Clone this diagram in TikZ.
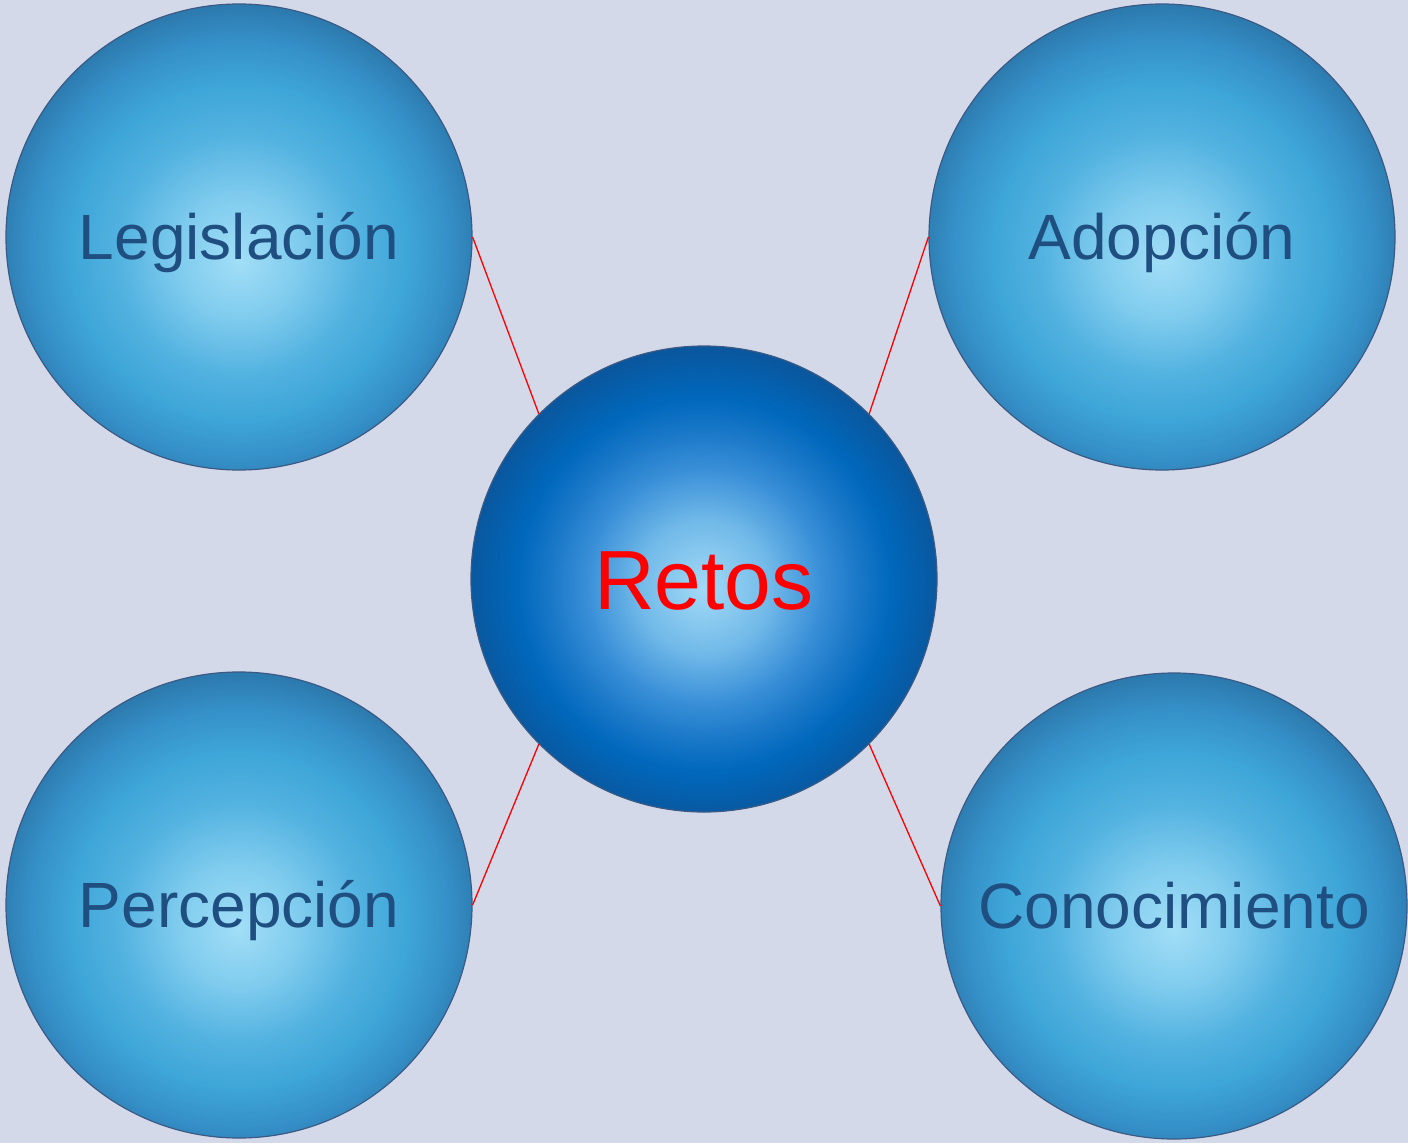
\documentclass[tikz,border=0pt]{standalone}
\usepackage{fontspec}
\setmainfont{Liberation Sans}
\definecolor{bgcol}{HTML}{D3D9E8}
\definecolor{txtblue}{HTML}{1F4E80}
\definecolor{rimcol}{HTML}{3B5A85}
\definecolor{ballA}{HTML}{A2DEF7}
\definecolor{ballB}{HTML}{80CCEE}
\definecolor{ballC}{HTML}{52B2E0}
\definecolor{ballD}{HTML}{3EA6D8}
\definecolor{ballE}{HTML}{3590C8}
\definecolor{ballF}{HTML}{2C7AAE}
\definecolor{coreA}{HTML}{A2DAF6}
\definecolor{coreB}{HTML}{72BAE9}
\definecolor{coreC}{HTML}{3A90D8}
\definecolor{coreD}{HTML}{1A78C8}
\definecolor{coreE}{HTML}{0068BC}
\definecolor{coreF}{HTML}{0A569C}
\pgfdeclareradialshading{ballshade}{\pgfpoint{0bp}{-2.5bp}}{%
  color(0bp)=(ballA);
  color(6.5bp)=(ballB);
  color(13bp)=(ballC);
  color(18bp)=(ballD);
  color(22.5bp)=(ballE);
  color(26bp)=(ballF);
  color(50bp)=(ballF)}
\pgfdeclareradialshading{coreshade}{\pgfpoint{0bp}{-1bp}}{%
  color(0bp)=(coreA);
  color(7bp)=(coreB);
  color(12.5bp)=(coreC);
  color(16.5bp)=(coreD);
  color(20bp)=(coreE);
  color(25.5bp)=(coreF);
  color(50bp)=(coreF)}
\tikzset{
  ball/.style={circle, minimum size=466pt, inner sep=0pt, draw=rimcol, line width=1.2pt,
    shading=ballshade, text=txtblue, font=\fontsize{64}{70}\selectfont,
    text height=45.8pt, text depth=0pt},
  core/.style={circle, minimum size=466pt, inner sep=0pt, draw=rimcol, line width=1.2pt,
    shading=coreshade, text=red, font=\fontsize{84}{90}\selectfont,
    text height=60pt, text depth=0pt},
  link/.style={draw=red, line width=1.3pt}
}
\begin{document}
\begin{tikzpicture}[x=1pt,y=-1pt]
  \fill[bgcol] (0,0) rectangle (1408,1143);
  \useasboundingbox (0,0) rectangle (1408,1143);
  \node[ball] (leg) at (239,237) {Legislación};
  \node[ball] (ado) at (1162,237) {Adopción};
  \node[ball] (per) at (239,905) {Percepción};
  \node[ball] (con) at (1174,906) {Conocimiento};
  \node[core] (ret) at (704,579) {Retos};
  \draw[link] (leg.east) -- (ret.135);
  \draw[link] (ado.west) -- (ret.45);
  \draw[link] (per.east) -- (ret.225);
  \draw[link] (con.west) -- (ret.-45);
\end{tikzpicture}
\end{document}
